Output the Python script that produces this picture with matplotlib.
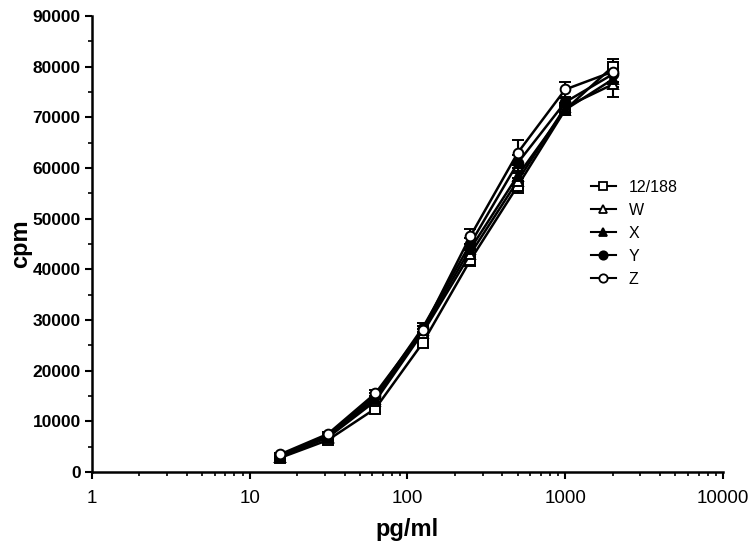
import matplotlib
matplotlib.use("Agg")
import matplotlib.pyplot as plt
from matplotlib.lines import Line2D
from matplotlib.ticker import LogLocator, FixedLocator, NullFormatter

plt.rcParams['font.family'] = ['Liberation Sans', 'DejaVu Sans']

conc = [15.6, 31.25, 62.5, 125, 250, 500, 1000, 2000]
s_12188 = [2800, 6300, 12500, 25500, 41800, 56500, 71500, 80000]
s_W = [3000, 6800, 14000, 27500, 43000, 57500, 72000, 76500]
s_X = [3000, 7000, 14500, 28000, 44000, 58500, 71500, 77500]
s_Y = [3300, 7200, 15000, 28500, 45000, 61000, 73000, 78500]
s_Z = [3500, 7500, 15500, 28000, 46500, 63000, 75500, 79000]
e_12188 = [300, 400, 600, 800, 1200, 1500, 800, 1500]
e_W = [300, 400, 600, 800, 1000, 1500, 800, 2500]
e_X = [300, 400, 600, 800, 1000, 1500, 800, 1500]
e_Y = [300, 400, 600, 900, 1200, 1500, 800, 1500]
e_Z = [300, 400, 600, 800, 1500, 2500, 1500, 2000]

fig = plt.figure(figsize=(7.52, 5.46), dpi=100)
ax = fig.add_axes([0.1223, 0.1355, 0.8391, 0.8352])

series = [
    ("12/188", s_12188, e_12188, dict(marker='s', mfc='white')),
    ("W", s_W, e_W, dict(marker='^', mfc='white')),
    ("X", s_X, e_X, dict(marker='^', mfc='black')),
    ("Y", s_Y, e_Y, dict(marker='o', mfc='black')),
    ("Z", s_Z, e_Z, dict(marker='o', mfc='white')),
]
handles = []
for name, vals, errs, st in series:
    ax.errorbar(conc, vals, yerr=errs, color='black', lw=1.8, ms=7, mec='black',
                mew=1.4, capsize=4, elinewidth=1.5, capthick=1.5, **st)
    handles.append(Line2D([], [], color='black', lw=1.5, ms=6, mec='black',
                          mew=1.3, label=name, **st))

ax.set_xscale('log')
ax.set_xlim(1, 10000)
ax.set_ylim(0, 90000)
ax.xaxis.set_major_locator(FixedLocator([1, 10, 100, 1000, 10000]))
ax.xaxis.set_minor_locator(LogLocator(base=10, subs=range(2, 10)))
ax.xaxis.set_minor_formatter(NullFormatter())
ax.set_xticklabels(['1', '10', '100', '1000', '10000'])
ax.yaxis.set_major_locator(FixedLocator(range(0, 90001, 10000)))
ax.yaxis.set_minor_locator(FixedLocator(range(5000, 90000, 10000)))

for sp in ['top', 'right']:
    ax.spines[sp].set_visible(False)
for sp in ['left', 'bottom']:
    ax.spines[sp].set_linewidth(1.8)

ax.tick_params(axis='both', which='major', direction='out', length=5, width=1.5)
ax.tick_params(axis='y', which='major', labelsize=12.5, pad=3)
ax.tick_params(axis='x', which='major', labelsize=13.5, pad=8)
ax.tick_params(axis='both', which='minor', direction='out', length=3, width=1.2)
for lab in ax.get_yticklabels():
    lab.set_fontweight('bold')

ax.set_xlabel('pg/ml', fontsize=17, fontweight='bold', labelpad=8)
ax.set_ylabel('cpm', fontsize=17, fontweight='bold')
ax.yaxis.set_label_coords(-0.095, 0.5)

ax.legend(handles=handles, loc='upper left', bbox_to_anchor=(0.78, 0.655), frameon=False,
          fontsize=11.5, handlelength=1.6, labelspacing=0.5, handletextpad=0.8,
          borderaxespad=0)

fig.savefig('out.png', dpi=100)
